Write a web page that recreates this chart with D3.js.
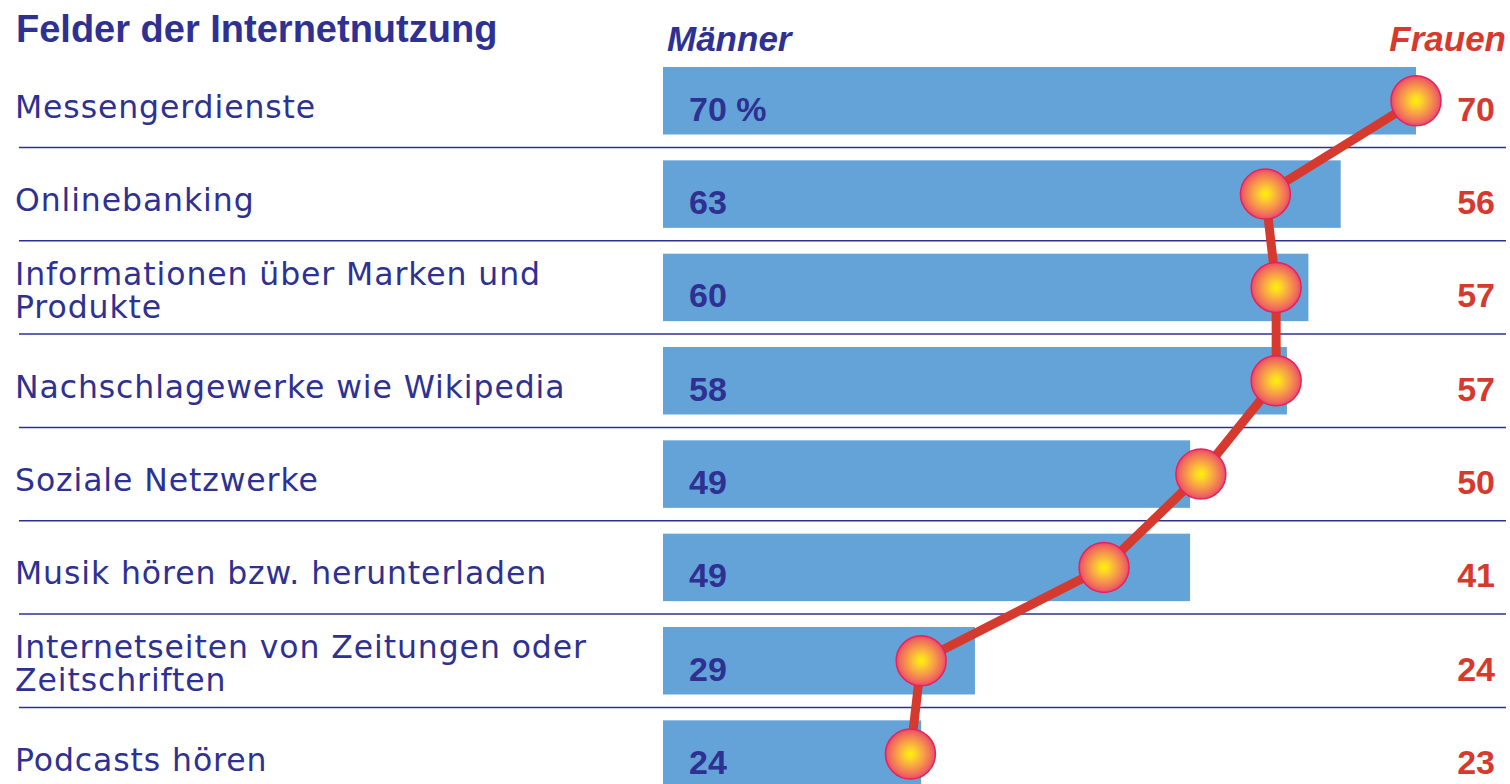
<!DOCTYPE html>
<html>
<head>
<meta charset="utf-8">
<script src="https://cdn.jsdelivr.net/npm/d3@7"></script>
<style>
  html, body { margin: 0; padding: 0; background: #fff; }
  svg { display: block; }
</style>
</head>
<body>
<script>
// Felder der Internetnutzung, Männer (bars) vs Frauen (dots)
var categories = [
  "Messengerdienste",
  "Onlinebanking",
  "Informationen über Marken und\nProdukte",
  "Nachschlagewerke wie Wikipedia",
  "Soziale Netzwerke",
  "Musik hören bzw. herunterladen",
  "Internetseiten von Zeitungen oder\nZeitschriften",
  "Podcasts hören"
];
var men = [70, 63, 60, 58, 49, 49, 29, 24];
var women = [70, 56, 57, 57, 50, 41, 24, 23];
var title = "Felder der Internetnutzung";
var seriesNames = ["Männer", "Frauen"];

var W = 1510, H = 784;
var blue = "#2e3192", red = "#d63a2e", barColor = "#64a3d8";

var svg = d3.select("body").append("svg")
  .attr("width", W).attr("height", H);

var defs = svg.append("defs");
var grad = defs.append("radialGradient").attr("id", "dot")
  .attr("cx", "50%").attr("cy", "50%").attr("r", "50%");
[["0%", "#fff200"], ["22%", "#fcd22c"], ["55%", "#f79c48"], ["85%", "#ef6a5e"], ["100%", "#ea4868"]]
  .forEach(function(s) {
    grad.append("stop").attr("offset", s[0]).attr("stop-color", s[1]);
  });

var x = d3.scaleLinear().domain([0, 70]).range([663, 1416]);
var y = d3.scaleBand().domain(categories)
  .range([54.1, 54.1 + 8 * 93.33])
  .paddingInner(0.277).paddingOuter(0.1385);
var gap = y.step() - y.bandwidth();
var cy = function(c) { return y(c) + y.bandwidth() / 2; };

// title + series headers
svg.append("text").attr("x", 16).attr("y", 42)
  .attr("font-family", "Liberation Sans, Arial, sans-serif")
  .attr("font-weight", "bold").attr("font-size", 38)
  .attr("fill", blue).text(title);

svg.append("text").attr("x", 667).attr("y", 51)
  .attr("font-family", "Liberation Sans, Arial, sans-serif")
  .attr("font-weight", "bold").attr("font-style", "italic").attr("font-size", 35)
  .attr("fill", blue).text(seriesNames[0]);

svg.append("text").attr("x", 1506).attr("y", 51).attr("text-anchor", "end")
  .attr("font-family", "Liberation Sans, Arial, sans-serif")
  .attr("font-weight", "bold").attr("font-style", "italic").attr("font-size", 35)
  .attr("fill", red).text(seriesNames[1]);

// separators
svg.append("g").selectAll("line")
  .data(categories.slice(0, -1))
  .enter().append("line")
  .attr("x1", 19).attr("x2", 1506)
  .attr("y1", function(c) { return y(c) + y.bandwidth() + gap / 2; })
  .attr("y2", function(c) { return y(c) + y.bandwidth() + gap / 2; })
  .attr("stroke", blue).attr("stroke-width", 1.5);

// category labels
var labels = svg.append("g")
  .attr("font-family", "DejaVu Sans, sans-serif")
  .attr("font-size", 31.5).attr("letter-spacing", 0.9).attr("fill", blue);

categories.forEach(function(c) {
  var lines = c.split("\n");
  var base = cy(c) + 17 - (lines.length - 1) * 33 / 2 - (lines.length > 1 ? 3 : 0);
  var t = labels.append("text").attr("x", 15).attr("y", base);
  lines.forEach(function(l, i) {
    t.append("tspan").attr("x", 15).attr("y", base + i * 33).text(l);
  });
});

// bars (Männer)
svg.append("g").selectAll("rect")
  .data(men)
  .enter().append("rect")
  .attr("x", x(0))
  .attr("y", function(d, i) { return y(categories[i]); })
  .attr("width", function(d) { return x(d) - x(0); })
  .attr("height", y.bandwidth())
  .attr("fill", barColor);

svg.append("g")
  .attr("font-family", "Liberation Sans, Arial, sans-serif")
  .attr("font-weight", "bold").attr("font-size", 34).attr("fill", blue)
  .selectAll("text").data(men)
  .enter().append("text")
  .attr("x", 689)
  .attr("y", function(d, i) { return cy(categories[i]) + 20; })
  .text(function(d, i) { return i === 0 ? d + " %" : d; });

// line + dots (Frauen)
var line = d3.line()
  .x(function(d) { return x(d); })
  .y(function(d, i) { return cy(categories[i]); });

svg.append("path").datum(women)
  .attr("d", line)
  .attr("fill", "none").attr("stroke", red)
  .attr("stroke-width", 9).attr("stroke-linejoin", "round");

svg.append("g").selectAll("circle")
  .data(women)
  .enter().append("circle")
  .attr("cx", function(d) { return x(d); })
  .attr("cy", function(d, i) { return cy(categories[i]); })
  .attr("r", 25)
  .attr("fill", "url(#dot)")
  .attr("stroke", "#e8215a").attr("stroke-width", 1.5);

svg.append("g")
  .attr("font-family", "Liberation Sans, Arial, sans-serif")
  .attr("font-weight", "bold").attr("font-size", 34).attr("fill", red)
  .attr("text-anchor", "end")
  .selectAll("text").data(women)
  .enter().append("text")
  .attr("x", 1495)
  .attr("y", function(d, i) { return cy(categories[i]) + 20; })
  .text(function(d) { return d; });
</script>
</body>
</html>
